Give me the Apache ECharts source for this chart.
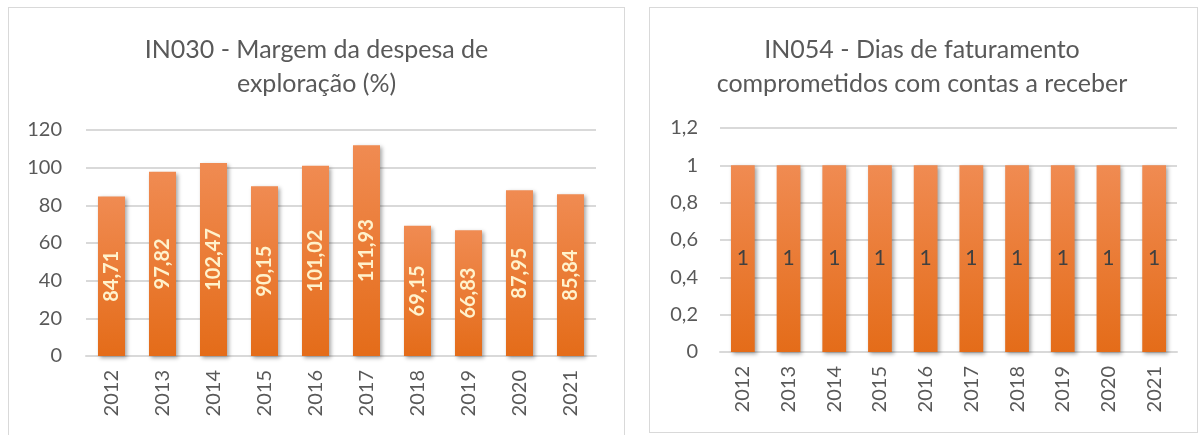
<!DOCTYPE html>
<html>
<head>
<meta charset="utf-8">
<script src="https://cdn.jsdelivr.net/npm/echarts@6/dist/echarts.min.js"></script>
<style>
    body { margin: 0; background: #fff; width: 1200px; height: 435px; overflow: hidden; position: relative; }
    .box { position: absolute; border: 1px solid #d9d9d9; box-sizing: border-box; }
    #chart1 { left: 8px; top: 7px; width: 617px; height: 440px; }
    #chart2 { left: 649px; top: 7px; width: 549px; height: 426px; }
</style>
</head>
<body>
<div id="chart1" class="box"></div>
<div id="chart2" class="box"></div>
<script>
var years = ['2012', '2013', '2014', '2015', '2016', '2017', '2018', '2019', '2020', '2021'];
var in030 = [84.71, 97.82, 102.47, 90.15, 101.02, 111.93, 69.15, 66.83, 87.95, 85.84];
var in054 = [1, 1, 1, 1, 1, 1, 1, 1, 1, 1];

var FONT = 'Lato';
var GREY = '#595959';

function comma(v) {
    return String(+(+v).toFixed(2)).replace('.', ',');
}

function barColor() {
    return new echarts.graphic.LinearGradient(0, 0, 0, 1, [
        { offset: 0, color: '#f08b52' },
        { offset: 1, color: '#e46c19' }
    ]);
}

//绘制 IN030
function drawChart1(date, data) {
    var chart1 = echarts.init(document.getElementById('chart1'));

    var option = {
        textStyle: { fontFamily: FONT },
        title: {
            text: 'IN030 - Margem da despesa de\nexploração (%)',
            left: 'center',
            top: 20,
            textStyle: { fontFamily: FONT, fontSize: 25, fontWeight: 'normal', color: GREY, lineHeight: 34 }
        },
        grid: { left: 77, right: 28, top: 122, bottom: 90 },
        xAxis: {
            type: 'category',
            data: date,
            axisLine: { lineStyle: { color: '#d9d9d9', width: 2 } },
            axisTick: { show: false },
            axisLabel: { rotate: 90, margin: 14, color: GREY, fontSize: 20, fontFamily: FONT }
        },
        yAxis: {
            type: 'value',
            min: 0,
            max: 120,
            interval: 20,
            axisLabel: { color: GREY, fontSize: 20, margin: 24, fontFamily: FONT, formatter: comma },
            splitLine: { lineStyle: { color: '#d9d9d9', width: 2 } }
        },
        series: [{
            type: 'bar',
            data: data,
            barWidth: '53%',
            itemStyle: {
                color: barColor(),
                shadowBlur: 4,
                shadowColor: 'rgba(0,0,0,0.35)',
                shadowOffsetX: 2,
                shadowOffsetY: 2
            },
            label: {
                show: true,
                position: 'inside',
                rotate: 90,
                color: '#fff2cc',
                fontWeight: 'bold',
                fontSize: 20,
                fontFamily: FONT,
                formatter: function (p) { return comma(p.value); }
            }
        }]
    };

    chart1.setOption(option);
}

//绘制 IN054
function drawChart2(date, data) {
    var chart2 = echarts.init(document.getElementById('chart2'));

    var option = {
        textStyle: { fontFamily: FONT },
        title: {
            text: 'IN054 - Dias de faturamento\ncomprometidos com contas a receber',
            left: 267,
            textAlign: 'center',
            top: 20,
            textStyle: { fontFamily: FONT, fontSize: 25, fontWeight: 'normal', color: GREY, lineHeight: 34 }
        },
        grid: { left: 70, right: 20, top: 120, bottom: 80 },
        xAxis: {
            type: 'category',
            data: date,
            axisLine: { lineStyle: { color: '#d9d9d9', width: 2 } },
            axisTick: { show: false },
            axisLabel: { rotate: 90, margin: 14, color: GREY, fontSize: 20, fontFamily: FONT }
        },
        yAxis: {
            type: 'value',
            min: 0,
            max: 1.2,
            interval: 0.2,
            axisLabel: { color: GREY, fontSize: 20, margin: 22, fontFamily: FONT, formatter: comma },
            splitLine: { lineStyle: { color: '#d9d9d9', width: 2 } }
        },
        series: [{
            type: 'bar',
            data: data,
            barWidth: '52%',
            itemStyle: {
                color: barColor(),
                shadowBlur: 4,
                shadowColor: 'rgba(0,0,0,0.35)',
                shadowOffsetX: 2,
                shadowOffsetY: 2
            },
            label: {
                show: true,
                position: 'inside',
                color: '#404040',
                fontSize: 21,
                fontFamily: FONT,
                formatter: function (p) { return comma(p.value); }
            }
        }]
    };

    chart2.setOption(option);
}

drawChart1(years, in030);
drawChart2(years, in054);
</script>
</body>
</html>
